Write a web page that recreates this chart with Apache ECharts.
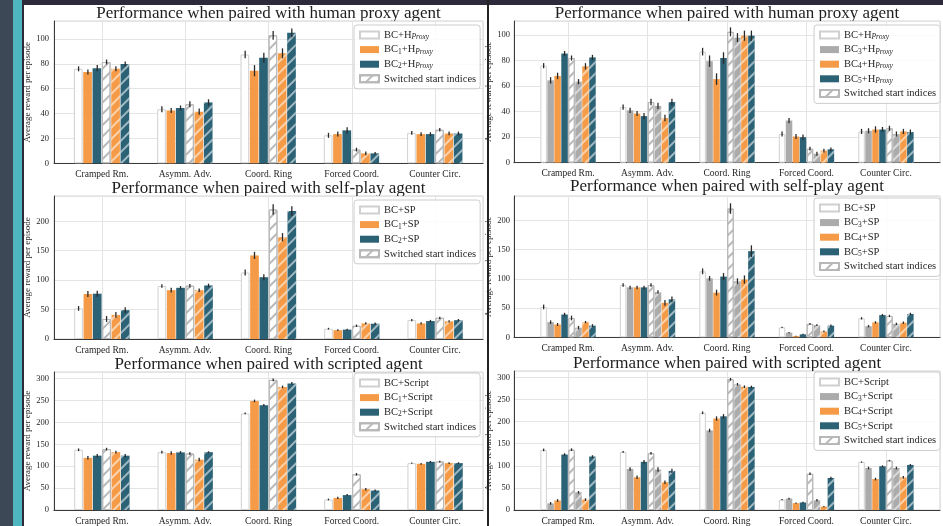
<!DOCTYPE html>
<html><head><meta charset="utf-8">
<script src="https://cdn.jsdelivr.net/npm/echarts@6/dist/echarts.min.js"></script>
<style>
html,body{margin:0;padding:0;background:#fff;}
body{width:943px;height:526px;overflow:hidden;position:relative;}
.d{position:absolute;}
</style></head>
<body>
<div class="d" style="left:0;top:0;width:13px;height:526px;background:#3d4857"></div>
<div class="d" style="left:13px;top:0;width:9px;height:526px;background:#4fb5bf"></div>
<div class="d" style="left:22px;top:0;width:2px;height:526px;background:#2d2a3b"></div>
<div class="d" style="left:24px;top:0;width:919px;height:5px;background:#2d2a3b"></div>
<div class="d" style="left:487px;top:0;width:2px;height:526px;background:#222"></div>
<div id="chart" class="d" style="left:0;top:0;width:943px;height:526px"></div>
<script>
const categories = ['Cramped Rm.', 'Asymm. Adv.', 'Coord. Ring', 'Forced Coord.', 'Counter Circ.'];
const switchedLabel = 'Switched start indices';

// ---- Human proxy, left (BC, BC1, BC2) ----
const hpL_BC = [76, 43.5, 87.5, 22.5, 24.5];
const hpL_BC1 = [73.5, 42.5, 74.5, 23.5, 23.5];
const hpL_BC2 = [76.5, 44.5, 85, 26.5, 23.5];
const hpL_BC_sw = [81.5, 47.5, 103, 11, 27];
const hpL_BC1_sw = [76, 41.5, 88.5, 8, 24];
const hpL_BC2_sw = [80, 49, 105, 8, 24];
const hpL_BC_err = [2, 2.5, 3, 2, 1.5];
const hpL_BC1_err = [2, 2, 4.5, 2, 1.5];
const hpL_BC2_err = [2.5, 2, 4, 2.5, 1.5];
const hpL_BC_sw_err = [2, 2.5, 3.5, 1.5, 1.5];
const hpL_BC1_sw_err = [2, 2.5, 4, 1.5, 1.5];
const hpL_BC2_sw_err = [2, 2.5, 3.5, 1, 1.5];

// ---- Human proxy, right (BC, BC3, BC4, BC5) ----
const hpR_BC = [76, 43.5, 87, 22.5, 24.5];
const hpR_BC3 = [64.5, 41, 79.5, 33, 25];
const hpR_BC4 = [68, 38.5, 65.5, 20.5, 26];
const hpR_BC5 = [85.5, 36.5, 82, 20, 26];
const hpR_BC_sw = [82, 47.5, 102.5, 11, 27];
const hpR_BC3_sw = [63.5, 44.5, 98, 7, 22.5];
const hpR_BC4_sw = [75.5, 35, 99.5, 9.5, 24.5];
const hpR_BC5_sw = [82.5, 47.5, 99.5, 10.5, 24];
const hpR_BC_err = [2, 2, 3, 2, 2];
const hpR_BC3_err = [2.5, 2, 4.5, 2, 2];
const hpR_BC4_err = [2.5, 2, 4.5, 2, 2.5];
const hpR_BC5_err = [2, 2.5, 4.5, 2, 2];
const hpR_BC_sw_err = [2, 2.5, 3.5, 1.5, 2];
const hpR_BC3_sw_err = [2, 2.5, 3.5, 1.5, 2];
const hpR_BC4_sw_err = [2.5, 2.5, 4, 1.5, 2];
const hpR_BC5_sw_err = [2, 2.5, 4, 1.5, 2];

// ---- Self-play, left ----
const spL_BC = [52, 90, 113, 17.5, 32];
const spL_BC1 = [76.5, 83, 142, 15, 26.5];
const spL_BC2 = [77, 87, 105, 16, 30.5];
const spL_BC_sw = [34, 90.5, 220, 22.5, 36];
const spL_BC1_sw = [41, 83, 173, 26.5, 30];
const spL_BC2_sw = [49, 91, 217.5, 26, 32];
const spL_BC_err = [4, 3, 5, 1.5, 2];
const spL_BC1_err = [5, 4, 6, 1.5, 2];
const spL_BC2_err = [5, 3, 5, 1.5, 2];
const spL_BC_sw_err = [5, 3, 9, 2, 2];
const spL_BC1_sw_err = [5, 3, 7, 2, 2];
const spL_BC2_sw_err = [5, 3, 8, 2, 2];

// ---- Self-play, right ----
const spR_BC = [52, 89.5, 113, 17, 32.5];
const spR_BC3 = [26, 85.5, 101, 8, 19];
const spR_BC4 = [22, 85.5, 76.5, 2, 25.5];
const spR_BC5 = [39, 85.5, 104, 5, 38];
const spR_BC_sw = [33, 89.5, 220.5, 23, 36.5];
const spR_BC3_sw = [16.5, 77.5, 96, 21, 23];
const spR_BC4_sw = [26, 59, 99, 10, 25];
const spR_BC5_sw = [20, 65, 147.5, 20, 40];
const spR_BC_err = [4, 3, 5, 1, 2];
const spR_BC3_err = [3, 3, 4, 1, 2];
const spR_BC4_err = [2.5, 3, 5, 0.5, 2];
const spR_BC5_err = [3, 3, 6, 1, 2];
const spR_BC_sw_err = [4, 3, 9, 1.5, 2];
const spR_BC3_sw_err = [3, 3, 5, 1.5, 2];
const spR_BC4_sw_err = [2, 5, 7, 1.5, 2];
const spR_BC5_sw_err = [2.5, 5, 10, 2, 2];

// ---- Scripted, left ----
const scL_BC = [137.5, 132, 220.5, 24, 107];
const scL_BC1 = [119, 130, 249, 27.5, 105.5];
const scL_BC2 = [124, 131.5, 239, 34, 110];
const scL_BC_sw = [139, 129, 297, 81.5, 110.5];
const scL_BC1_sw = [132, 115, 281, 47.5, 107];
const scL_BC2_sw = [124, 132, 289, 44.5, 107];
const scL_BC_err = [3, 3, 2, 2, 1.5];
const scL_BC1_err = [4, 4, 3, 2.5, 2];
const scL_BC2_err = [4, 3, 3, 2.5, 2];
const scL_BC_sw_err = [3, 3, 3, 3, 2];
const scL_BC1_sw_err = [3, 4, 3, 3, 2];
const scL_BC2_sw_err = [4, 2, 3, 2.5, 2];

// ---- Scripted, right ----
const scR_BC = [136, 131.5, 220, 23.5, 108.5];
const scR_BC3 = [15, 93, 180, 26, 95];
const scR_BC4 = [21.5, 74, 207, 15.5, 70];
const scR_BC5 = [125.5, 109, 212, 17, 99];
const scR_BC_sw = [136.5, 128.5, 296, 82, 112];
const scR_BC3_sw = [40, 91.5, 284.5, 22, 95];
const scR_BC4_sw = [23.5, 63, 279, 7.5, 74];
const scR_BC5_sw = [121, 88.5, 278.5, 72.5, 102];
const scR_BC_err = [3, 2, 3, 1.5, 1.5];
const scR_BC3_err = [3, 4, 4, 2, 3];
const scR_BC4_err = [3, 4, 5, 1.5, 3];
const scR_BC5_err = [3, 4, 5, 1.5, 2];
const scR_BC_sw_err = [3, 3, 3, 3, 1.5];
const scR_BC3_sw_err = [3, 5, 3, 3, 3];
const scR_BC4_sw_err = [3, 4, 3, 1.5, 3];
const scR_BC5_sw_err = [3, 5, 3, 3, 2];

const yTicksHuman = 20, yTicksSP = 50, yTicksScript = 50;

const WHITE = '#ffffff', ORANGE = '#F59B47', TEAL = '#2B6276', GRAY = '#ABABAB';
const SERIF = '"Liberation Serif", "DejaVu Serif", serif';
const TXT = '#262626';

const panels = [
  {side: 'L', row: 0, title: 'Performance when paired with human proxy agent',
   names: ['BC+H_Proxy', 'BC1+H_Proxy', 'BC2+H_Proxy'], colors: [WHITE, ORANGE, TEAL],
   vals: [hpL_BC, hpL_BC1, hpL_BC2], sw: [hpL_BC_sw, hpL_BC1_sw, hpL_BC2_sw],
   errs: [hpL_BC_err, hpL_BC1_err, hpL_BC2_err], swErrs: [hpL_BC_sw_err, hpL_BC1_sw_err, hpL_BC2_sw_err],
   yMax: 114.5, yInt: yTicksHuman},
  {side: 'R', row: 0, title: 'Performance when paired with human proxy agent',
   names: ['BC+H_Proxy', 'BC3+H_Proxy', 'BC4+H_Proxy', 'BC5+H_Proxy'], colors: [WHITE, GRAY, ORANGE, TEAL],
   vals: [hpR_BC, hpR_BC3, hpR_BC4, hpR_BC5], sw: [hpR_BC_sw, hpR_BC3_sw, hpR_BC4_sw, hpR_BC5_sw],
   errs: [hpR_BC_err, hpR_BC3_err, hpR_BC4_err, hpR_BC5_err], swErrs: [hpR_BC_sw_err, hpR_BC3_sw_err, hpR_BC4_sw_err, hpR_BC5_sw_err],
   yMax: 111, yInt: yTicksHuman},
  {side: 'L', row: 1, title: 'Performance when paired with self-play agent',
   names: ['BC+SP', 'BC1+SP', 'BC2+SP'], colors: [WHITE, ORANGE, TEAL],
   vals: [spL_BC, spL_BC1, spL_BC2], sw: [spL_BC_sw, spL_BC1_sw, spL_BC2_sw],
   errs: [spL_BC_err, spL_BC1_err, spL_BC2_err], swErrs: [spL_BC_sw_err, spL_BC1_sw_err, spL_BC2_sw_err],
   yMax: 243, yInt: yTicksSP},
  {side: 'R', row: 1, title: 'Performance when paired with self-play agent',
   names: ['BC+SP', 'BC3+SP', 'BC4+SP', 'BC5+SP'], colors: [WHITE, GRAY, ORANGE, TEAL],
   vals: [spR_BC, spR_BC3, spR_BC4, spR_BC5], sw: [spR_BC_sw, spR_BC3_sw, spR_BC4_sw, spR_BC5_sw],
   errs: [spR_BC_err, spR_BC3_err, spR_BC4_err, spR_BC5_err], swErrs: [spR_BC_sw_err, spR_BC3_sw_err, spR_BC4_sw_err, spR_BC5_sw_err],
   yMax: 242, yInt: yTicksSP},
  {side: 'L', row: 2, title: 'Performance when paired with scripted agent',
   names: ['BC+Script', 'BC1+Script', 'BC2+Script'], colors: [WHITE, ORANGE, TEAL],
   vals: [scL_BC, scL_BC1, scL_BC2], sw: [scL_BC_sw, scL_BC1_sw, scL_BC2_sw],
   errs: [scL_BC_err, scL_BC1_err, scL_BC2_err], swErrs: [scL_BC_sw_err, scL_BC1_sw_err, scL_BC2_sw_err],
   yMax: 315, yInt: yTicksScript},
  {side: 'R', row: 2, title: 'Performance when paired with scripted agent',
   names: ['BC+Script', 'BC3+Script', 'BC4+Script', 'BC5+Script'], colors: [WHITE, GRAY, ORANGE, TEAL],
   vals: [scR_BC, scR_BC3, scR_BC4, scR_BC5], sw: [scR_BC_sw, scR_BC3_sw, scR_BC4_sw, scR_BC5_sw],
   errs: [scR_BC_err, scR_BC3_err, scR_BC4_err, scR_BC5_err], swErrs: [scR_BC_sw_err, scR_BC3_sw_err, scR_BC4_sw_err, scR_BC5_sw_err],
   yMax: 314.6, yInt: yTicksScript}
];

// layout (pixels)
const layoutL = {left: 54, width: 429, xMin: -0.575, xMax: 4.575, barW: 10.4, barGap: 7.7,
  tops: [21, 196, 372], heights: [142.3, 143, 141.3], titleX: 268.5, titleY: [14, 189, 365],
  legLeft: 354, legTop: [25, 200, 373], nameGap: 17};
const layoutR = {left: 514, width: 426, xMin: -0.68, xMax: 4.68, barW: 8.2, barGap: 7,
  tops: [21, 196, 371], heights: [141.7, 141.3, 141.7], titleX: 727, titleY: [14, 187, 364],
  legLeft: 814, legTop: [25, 198, 372], nameGap: 17};

function hatch(color) {
  return {symbol: 'rect', symbolSize: 1, dashArrayX: [1, 0], dashArrayY: [1.2, 6],
          rotation: -Math.PI / 4, color: color};
}
function barStyle(color, hatched) {
  const st = {color: color, borderWidth: 0};
  if (color === WHITE) { st.borderColor = hatched ? '#b8b8b8' : '#d0d0d0'; st.borderWidth = 1; }
  if (hatched) st.decal = hatch(color === WHITE ? '#b8b8b8' : 'rgba(255,255,255,0.55)');
  return st;
}
function legendFmt(name) {
  if (name === switchedLabel) return '{n|' + name + '}';
  const m = name.match(/^BC(\d?)\+(.*)$/);
  let s = '{n|BC}' + (m[1] ? '{s|' + m[1] + '}' : '') + '{n|+';
  if (m[2] === 'H_Proxy') s += 'H}{si|Proxy}'; else s += m[2] + '}';
  return s;
}

const option = {animation: false, grid: [], xAxis: [], yAxis: [], series: [], legend: [], graphic: []};

panels.forEach(function (p, gi) {
  const L = p.side === 'L' ? layoutL : layoutR;
  option.grid.push({left: L.left, top: L.tops[p.row], width: L.width, height: L.heights[p.row],
    show: true, borderColor: '#d2d2d2', borderWidth: 1, backgroundColor: 'transparent', containLabel: false});
  option.xAxis.push({type: 'value', gridIndex: gi, min: L.xMin, max: L.xMax,
    axisLine: {show: true, onZero: false, lineStyle: {color: '#3a3a3a', width: 1}},
    axisTick: {show: false},
    splitLine: {show: true, lineStyle: {color: '#e4e4e4', width: 1}},
    axisLabel: {showMinLabel: false, showMaxLabel: false, margin: 6, fontFamily: SERIF, fontSize: 9.5, color: TXT,
      formatter: function (v) { return (Math.abs(v - Math.round(v)) < 1e-6 && categories[Math.round(v)]) ? categories[Math.round(v)] : ''; }}});
  option.yAxis.push({type: 'value', gridIndex: gi, min: 0, max: p.yMax, interval: p.yInt,
    axisLine: {show: true, onZero: false, lineStyle: {color: '#3a3a3a', width: 1}},
    axisTick: {show: false},
    splitLine: {show: true, lineStyle: {color: '#e4e4e4', width: 1}},
    axisLabel: {showMaxLabel: false, margin: p.side === 'L' ? 5 : 4, fontFamily: SERIF, fontSize: 8.5, color: TXT},
    name: 'Average reward per episode', nameLocation: 'middle', nameGap: L.nameGap, nameRotate: 90,
    nameTextStyle: {fontFamily: SERIF, fontSize: 9, color: TXT}});

  const n = p.names.length * 2;
  const allVals = p.vals.concat(p.sw);
  const allErrs = p.errs.concat(p.swErrs);
  allVals.forEach(function (arr, j) {
    const k = j % p.names.length;
    const hatched = j >= p.names.length;
    option.series.push({type: 'bar', name: hatched ? p.names[k] + ' (switched)' : p.names[k],
      xAxisIndex: gi, yAxisIndex: gi, barWidth: L.barW + '%', barGap: L.barGap + '%', z: 2,
      itemStyle: barStyle(p.colors[k], hatched),
      emphasis: {disabled: true},
      data: arr.map(function (v, i) { return [i, v]; })});
  });
  // error bars
  const ebData = [];
  allErrs.forEach(function (arr, j) {
    arr.forEach(function (e, i) { ebData.push([i, j, allVals[j][i] - e, allVals[j][i] + e]); });
  });
  const bw = L.barW / 100, gap = L.barGap / 100;
  option.series.push({type: 'custom', xAxisIndex: gi, yAxisIndex: gi, z: 3, silent: true,
    encode: {x: 0, y: 3},
    renderItem: function (params, api) {
      const x = api.value(0), j = api.value(1);
      const unit = api.size([1, 0])[0];
      const w = unit * bw;
      const total = n * w + (n - 1) * gap * w;
      const off = -total / 2 + j * w * (1 + gap) + w / 2;
      const a = api.coord([x, api.value(2)]), b = api.coord([x, api.value(3)]);
      return {type: 'line', shape: {x1: a[0] + off, y1: a[1], x2: b[0] + off, y2: b[1]},
        style: {stroke: '#2a2a2a', lineWidth: 1.3}};
    },
    data: ebData});

  option.legend.push({orient: 'vertical', left: L.legLeft, top: L.legTop[p.row],
    data: p.names.concat([switchedLabel]), icon: 'rect', itemWidth: 19, itemHeight: 7, itemGap: 2.6,
    padding: [4, 4, 4, 5], backgroundColor: 'rgba(255,255,255,0.85)', borderColor: '#cccccc', borderWidth: 1, borderRadius: 3,
    selectedMode: false, formatter: legendFmt,
    textStyle: {fontFamily: SERIF, fontSize: 10.5, color: TXT, lineHeight: 12,
      rich: {n: {fontFamily: SERIF, fontSize: 10.5, color: TXT, lineHeight: 12},
             s: {fontFamily: SERIF, fontSize: 7.5, color: TXT, lineHeight: 5, verticalAlign: 'bottom'},
             si: {fontFamily: SERIF, fontSize: 7.5, fontStyle: 'italic', color: TXT, lineHeight: 5, verticalAlign: 'bottom'}}}});

  option.graphic.push({type: 'text', x: L.titleX, y: L.titleY[p.row], silent: true,
    style: {text: p.title, fontFamily: SERIF, fontSize: 17, fill: '#1e1e1e', align: 'center', verticalAlign: 'middle'}});
});

// legend-only series for the hatch key
option.series.push({type: 'bar', name: switchedLabel, xAxisIndex: 0, yAxisIndex: 0, data: [],
  itemStyle: {color: WHITE, borderColor: '#b8b8b8', borderWidth: 1, decal: hatch('#b8b8b8')}});

const chart = echarts.init(document.getElementById('chart'), null, {renderer: 'canvas'});
chart.setOption(option);
</script>
</body></html>
